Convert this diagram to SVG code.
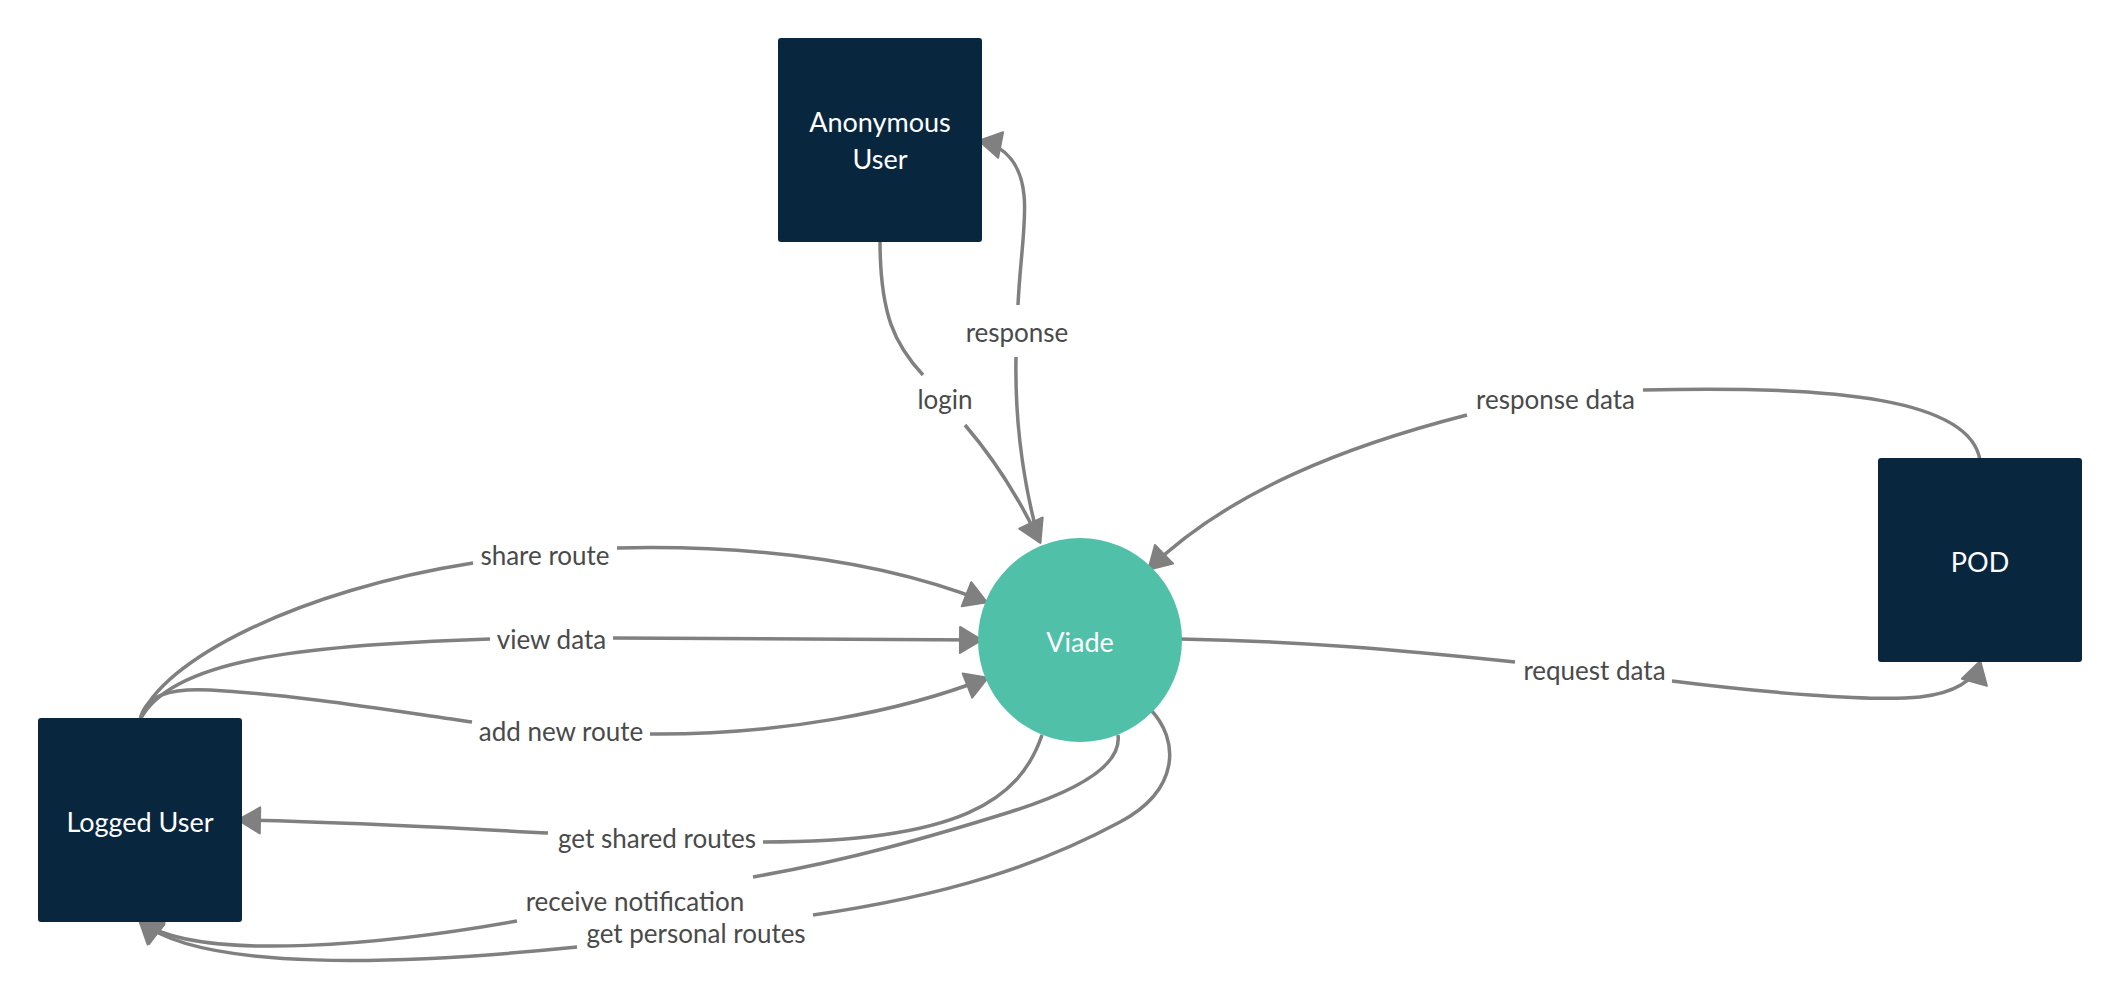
<svg xmlns="http://www.w3.org/2000/svg" width="2120" height="1000" viewBox="0 0 2120 1000">
<style>
.box{fill:#09263F}
.ntext{font-family:Lato,"Liberation Sans",sans-serif;font-size:27px;fill:#ffffff;text-anchor:middle}
.conn{fill:none;stroke:#808080;stroke-width:3.5;marker-end:url(#arrow)}
.lbl{font-family:Lato,"Liberation Sans",sans-serif;font-size:26px;fill:#4a4a4a;text-anchor:middle}
</style>
<defs>
<marker id="arrow" markerUnits="userSpaceOnUse" markerWidth="28" markerHeight="30" viewBox="-2 -2 26 30" refX="21" refY="13" orient="auto">
<path d="M0,0 L22,13 L0,26 z" fill="#808080" stroke="#808080" stroke-width="2" stroke-linejoin="round"/>
</marker>
</defs>
<rect width="2120" height="1000" fill="#ffffff"/>
<g id="connectors">
<g id="c-login"><path class="conn" d="M880,240 C880,315 895,345 923,375 M965,425 C995,460 1020,500 1040,542"/><text class="lbl" x="945" y="409">login</text></g>
<g id="c-response"><path class="conn" d="M1038,537 C1020,470 1015,410 1016,357 M1018,305 C1020,260 1027,220 1024,195 C1021,165 1006,146 980,141"/><text class="lbl" x="1017" y="342">response</text></g>
<g id="c-share"><path class="conn" d="M140,720 C160,660 300,590 473,563 M617,548 C750,545 880,560 986,602"/><text class="lbl" x="545" y="565">share route</text></g>
<g id="c-view"><path class="conn" d="M140,720 C170,660 300,645 490,639 M613,638 L981,640"/><text class="lbl" x="551.5" y="649">view data</text></g>
<g id="c-add"><path class="conn" d="M140,720 C145,695 170,688 210,690 C300,695 400,712 472,722 M650,734 C780,735 900,712 987,678"/><text class="lbl" x="561" y="741">add new route</text></g>
<g id="c-shared"><path class="conn" d="M1042,735 C1020,800 960,842 763,842 M548,833 C450,828 350,822 239,820"/><text class="lbl" x="657" y="848">get shared routes</text></g>
<g id="c-notif"><path class="conn" d="M1118,735 C1122,765 1080,790 1010,812 C930,837 850,860 753,877 M517,921 C400,942 200,965 140,921"/><text class="lbl" x="635" y="911">receive notification</text></g>
<g id="c-personal"><path class="conn" d="M1150,709 C1180,740 1180,790 1120,822 C1040,865 950,895 813,915 M577,947 C400,965 200,972 140,921"/><text class="lbl" x="696" y="943">get personal routes</text></g>
<g id="c-respdata"><path class="conn" d="M1980,460 C1970,400 1840,385 1643,390 M1467,415 C1350,445 1230,490 1149,569"/><text class="lbl" x="1555.5" y="409">response data</text></g>
<g id="c-reqdata"><path class="conn" d="M1180,639 C1300,641 1400,650 1515,662 M1672,681 C1760,692 1870,702 1920,697 C1955,693 1975,680 1980,662"/><text class="lbl" x="1594.5" y="680">request data</text></g>
</g>
<g id="anonymous-user"><rect class="box" x="778" y="38" width="204" height="204" rx="3"/><text class="ntext" x="880" y="132">Anonymous</text><text class="ntext" x="880" y="169">User</text></g>
<g id="logged-user"><rect class="box" x="38" y="718" width="204" height="204" rx="3"/><text class="ntext" x="140" y="832">Logged User</text></g>
<g id="pod"><rect class="box" x="1878" y="458" width="204" height="204" rx="3"/><text class="ntext" x="1980" y="572">POD</text></g>
<g id="viade"><circle cx="1080" cy="640" r="102" fill="#50C0A9"/><text class="ntext" x="1080" y="652">Viade</text></g>
</svg>
